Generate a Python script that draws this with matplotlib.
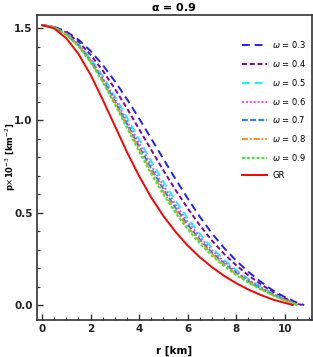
import numpy as np
import matplotlib
matplotlib.use("Agg")
import matplotlib.pyplot as plt
from matplotlib.ticker import FormatStrFormatter

# radius grid [km] shared by the omega curves
r_grid = [0, 0.5, 1.0, 1.5, 2.0, 2.5, 3.0, 3.5, 4.0, 4.5, 5.0,
          5.5, 6.0, 6.5, 7.0, 7.5, 8.0, 8.5, 9.0, 9.5, 10.0, 10.5]

# p x 10^-3 [km^-2] read on the grid above
p_w03 = [1.516, 1.507, 1.481, 1.437, 1.376, 1.300, 1.212, 1.115, 1.010, 0.901, 0.791,
         0.682, 0.577, 0.478, 0.388, 0.309, 0.240, 0.180, 0.127, 0.080, 0.043, 0.013]
p_w04 = [1.516, 1.506, 1.476, 1.425, 1.356, 1.270, 1.171, 1.065, 0.952, 0.840, 0.729,
         0.623, 0.524, 0.432, 0.349, 0.277, 0.215, 0.161, 0.114, 0.071, 0.037, 0.009]
p_w05 = [1.516, 1.504, 1.470, 1.414, 1.336, 1.240, 1.131, 1.015, 0.895, 0.778, 0.667,
         0.564, 0.470, 0.385, 0.310, 0.246, 0.190, 0.142, 0.100, 0.063, 0.031, 0.005]
p_w06 = [1.516, 1.504, 1.468, 1.410, 1.330, 1.230, 1.117, 0.997, 0.875, 0.757, 0.646,
         0.544, 0.452, 0.369, 0.297, 0.235, 0.182, 0.136, 0.096, 0.060, 0.030, 0.003]
p_w07 = [1.516, 1.504, 1.467, 1.406, 1.323, 1.221, 1.104, 0.982, 0.857, 0.738, 0.627,
         0.526, 0.435, 0.355, 0.284, 0.225, 0.174, 0.130, 0.091, 0.057, 0.028, 0.002]
p_w08 = [1.516, 1.503, 1.465, 1.404, 1.319, 1.214, 1.095, 0.971, 0.844, 0.724, 0.613,
         0.513, 0.423, 0.345, 0.276, 0.218, 0.168, 0.126, 0.088, 0.055, 0.026, 0.001]
p_w09 = [1.516, 1.503, 1.464, 1.401, 1.314, 1.207, 1.085, 0.958, 0.830, 0.709, 0.598,
         0.498, 0.410, 0.333, 0.266, 0.210, 0.162, 0.121, 0.085, 0.053, 0.025, 0.0]

# surface radius [km] of each omega curve (p = 0 there)
radius_w = [10.80, 10.70, 10.61, 10.58, 10.55, 10.52, 10.50]

# GR curve
r_gr = [0, 0.5, 1.0, 1.5, 2.0, 2.5, 3.0, 3.5, 4.0, 4.5, 5.0,
        5.5, 6.0, 6.5, 7.0, 7.5, 8.0, 8.5, 9.0, 9.5, 10.0, 10.33]
p_gr = [1.516, 1.498, 1.445, 1.360, 1.247, 1.112, 0.970, 0.828, 0.698, 0.582, 0.482,
        0.396, 0.322, 0.259, 0.205, 0.158, 0.118, 0.084, 0.055, 0.030, 0.012, 0.0]

labels = [r"$\omega$ = 0.3", r"$\omega$ = 0.4", r"$\omega$ = 0.5", r"$\omega$ = 0.6",
          r"$\omega$ = 0.7", r"$\omega$ = 0.8", r"$\omega$ = 0.9"]
p_omega = [p_w03, p_w04, p_w05, p_w06, p_w07, p_w08, p_w09]

colors = ["#1f1fff", "#8b008b", "#00ffff", "#ff40ff", "#1e7fff", "#ff8c1a", "#33ee33"]
styles = [(0, (4, 2.5)), (0, (2.5, 1.5)), (0, (4, 2.5)), (0, (1, 1)),
          (0, (3, 1.2)), (0, (3, 1, 1, 1)), (0, (1.5, 1))]

fig = plt.figure(figsize=(3.13, 3.57), dpi=100)
ax = fig.add_axes([0.118, 0.1036, 0.878, 0.854])

for p, R, lab, c, ls in zip(p_omega, radius_w, labels, colors, styles):
    r = list(r_grid) + [R]
    pp = list(p) + [0.0]
    ax.plot(r, pp, color=c, linestyle=ls, linewidth=1.4, label=lab)
ax.plot(r_gr, p_gr, color="#ff0000", linewidth=1.4, label="GR")

ax.set_xlim(-0.21, 11.11)
ax.set_ylim(-0.081, 1.57)
ax.set_xticks([0, 2, 4, 6, 8, 10])
ax.set_xticks(np.arange(0, 11.1, 0.5), minor=True)
ax.set_yticks([0.0, 0.5, 1.0, 1.5])
ax.set_yticks(np.arange(0, 1.56, 0.1), minor=True)
ax.yaxis.set_major_formatter(FormatStrFormatter("%.1f"))
ax.tick_params(which="both", direction="in", colors="#333333", labelcolor="#222222")
ax.tick_params(which="major", length=4, width=1, labelsize=7.5, pad=3)
ax.tick_params(which="minor", length=2, width=0.8)
for lbl in ax.get_xticklabels() + ax.get_yticklabels():
    lbl.set_fontweight("bold")
for s in ax.spines.values():
    s.set_linewidth(1.2)
    s.set_color("#333333")

ax.set_title(r"$\mathbf{\alpha}$ = 0.9", fontsize=8, fontweight="bold", pad=3)
ax.set_xlabel("r [km]", fontsize=7.5, fontweight="bold", labelpad=8)
ax.set_ylabel(r"p$\times$10$^{-3}$ [km$^{-2}$]", fontsize=6, fontweight="bold")
ax.yaxis.set_label_coords(-0.07, 0.535)

ax.legend(loc="upper left", bbox_to_anchor=(0.72, 0.945), frameon=False,
          fontsize=6, handlelength=3, labelspacing=0.93, handletextpad=0.6)

fig.savefig("out.png", dpi=100)
